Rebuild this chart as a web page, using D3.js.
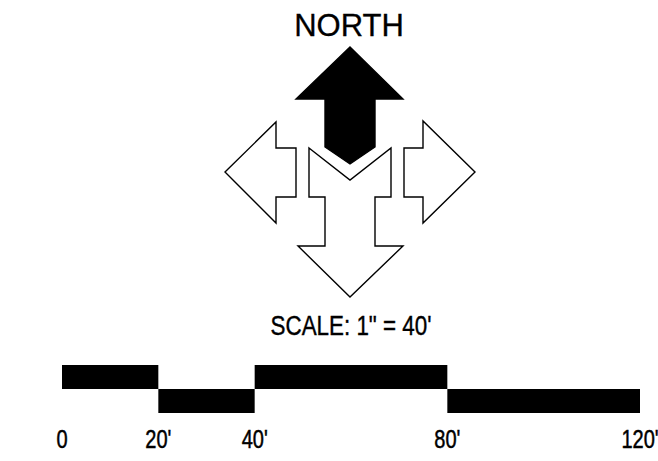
<!DOCTYPE html>
<html lang="en">
  <head>
    <meta charset="UTF-8">
    <script src="https://d3js.org/d3.v7.min.js"></script>
    <title>North arrow and scale</title>
    <style>
      body { margin: 0; background: #fff; }
      svg { display: block; font-family: "Liberation Sans", Arial, sans-serif; }
    </style>
  </head>
  <body>
    <div id="chart"></div>
    <script>
      // scale bar data (feet)
      const scaleTicks = [0, 20, 40, 80, 120];
      const tickLabels = ["0", "20'", "40'", "80'", "120'"];
      const segStart = [0, 20, 40, 80];
      const segEnd = [20, 40, 80, 120];
      const segRow = ["up", "down", "up", "down"];
      const scaleTitle = "SCALE: 1\" = 40'";
      const northLabel = "NORTH";

      // compass shapes in compass units (centre = 0,0)
      const northArrow = [[0,-125],[53,-73],[25,-73],[25,-25],[0,-8],[-25,-25],[-25,-73],[-54,-73]];
      const southArrow = [[-41,-24],[0,8],[41,-24],[41,25],[25,25],[25,74],[53,74],[0,125],[-52,74],[-25,74],[-25,25],[-41,25]];
      const westArrow = [[-125,0],[-74,-50],[-74,-24],[-54,-24],[-54,25],[-74,25],[-74,51]];
      const eastArrow = [[125,0],[73,-51],[73,-24],[54,-24],[54,25],[73,25],[73,51]];

      const width = 658, height = 461;
      const svg = d3.select("#chart").append("svg")
        .attr("width", width).attr("height", height);
      svg.append("rect").attr("width", width).attr("height", height).attr("fill", "#fff");

      // compass
      const cx = d3.scaleLinear().domain([-125, 125]).range([225, 475]);
      const cy = d3.scaleLinear().domain([-125, 125]).range([47, 297]);
      const line = d3.line().x(d => cx(d[0])).y(d => cy(d[1]));
      const shapes = [
        { pts: westArrow, fill: "#fff" },
        { pts: eastArrow, fill: "#fff" },
        { pts: southArrow, fill: "#fff" },
        { pts: northArrow, fill: "#000" }
      ];
      svg.selectAll(".arrow").data(shapes).enter().append("path")
        .attr("class", "arrow")
        .attr("d", d => line(d.pts) + "Z")
        .attr("fill", d => d.fill)
        .attr("stroke", "#000")
        .attr("stroke-width", 1.4)
        .attr("stroke-linejoin", "miter");

      svg.append("text")
        .attr("x", 349).attr("y", 36)
        .attr("text-anchor", "middle")
        .attr("font-size", 31)
        .attr("stroke", "#000").attr("stroke-width", 0.3)
        .text(northLabel);

      // scale bar
      const x = d3.scaleLinear().domain([0, 120]).range([62, 640]);
      const y = d3.scaleBand().domain(["up", "down"]).range([365, 413]);

      svg.append("text")
        .attr("transform", "translate(351,335) scale(0.8,1)")
        .attr("text-anchor", "middle")
        .attr("font-size", 28)
        .attr("stroke", "#000").attr("stroke-width", 0.4)
        .text(scaleTitle);

      svg.selectAll(".seg").data(segStart).enter().append("rect")
        .attr("class", "seg")
        .attr("x", (d, i) => x(d))
        .attr("width", (d, i) => x(segEnd[i]) - x(d))
        .attr("y", (d, i) => y(segRow[i]))
        .attr("height", y.bandwidth())
        .attr("fill", "#000");

      svg.selectAll(".tick").data(scaleTicks).enter().append("text")
        .attr("class", "tick")
        .attr("transform", d => `translate(${x(d)},448) scale(0.77,1)`)
        .attr("text-anchor", "middle")
        .attr("font-size", 26)
        .attr("stroke", "#000").attr("stroke-width", 0.5)
        .text((d, i) => tickLabels[i]);
    </script>
  </body>
</html>
